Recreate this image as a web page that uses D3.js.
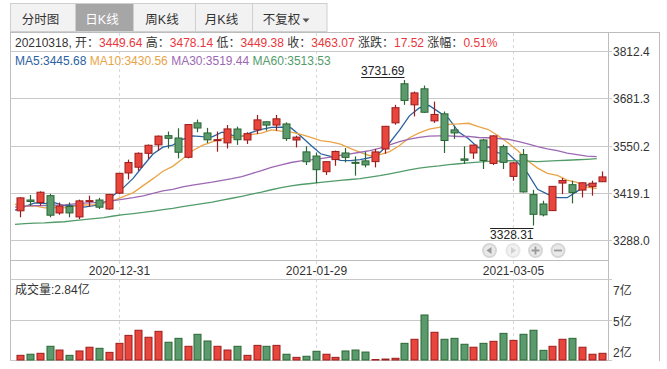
<!DOCTYPE html>
<html><head><meta charset="utf-8">
<script src="https://cdn.jsdelivr.net/npm/d3@7"></script>
<style>
html,body{margin:0;padding:0;background:#fff;}
svg{display:block;font-family:"Liberation Sans","Noto Sans CJK SC",Arial,sans-serif;}
</style></head><body>
<svg id="c" width="667" height="369"></svg>
<script>
const dates = ["2020-12-17","2020-12-18","2020-12-21","2020-12-22","2020-12-23","2020-12-24","2020-12-25","2020-12-28","2020-12-29","2020-12-30",
"2020-12-31","2021-01-04","2021-01-05","2021-01-06","2021-01-07","2021-01-08","2021-01-11","2021-01-12","2021-01-13","2021-01-14",
"2021-01-15","2021-01-18","2021-01-19","2021-01-20","2021-01-21","2021-01-22","2021-01-25","2021-01-26","2021-01-27","2021-01-28",
"2021-01-29","2021-02-01","2021-02-02","2021-02-03","2021-02-04","2021-02-05","2021-02-08","2021-02-09","2021-02-10","2021-02-18",
"2021-02-19","2021-02-22","2021-02-23","2021-02-24","2021-02-25","2021-02-26","2021-03-01","2021-03-02","2021-03-03","2021-03-04",
"2021-03-05","2021-03-08","2021-03-09","2021-03-10","2021-03-11","2021-03-12","2021-03-15","2021-03-16","2021-03-17","2021-03-18"];
const opens = [3369,3399,3392,3411,3363,3381,3352,3395,3399,3374,
3418,3474,3490,3528.5,3552,3577.5,3571,3517.5,3613,3585,
3565.5,3557.5,3596,3565.5,3593.5,3616,3607,3610,3565.5,3532.5,
3521,3477.5,3511,3529.5,3503.5,3507.5,3505.5,3540.5,3613,3721.5,
3663,3707.5,3618.5,3638,3593.5,3513,3529.5,3565.5,3500.5,3547,
3464.5,3525,3414,3388,3369.5,3446,3441.5,3426.5,3436,3449.64];
const highs = [3407,3413,3423,3416,3392,3392,3400,3411,3405,3415.5,
3474,3511,3531,3553,3578,3589,3598,3609,3622,3599,
3589,3607,3602.5,3587,3635,3617,3635,3614.5,3577.5,3548,
3531,3506,3536,3543.5,3520,3533,3540.5,3604.5,3663,3731.69,
3700,3716.5,3672,3644.5,3605,3548,3552,3568.5,3578.5,3552.5,
3504,3540.5,3427,3397,3437.5,3460,3452.5,3448,3452.5,3478.14];
const lows = [3351,3383,3383,3351,3358,3351,3346,3380,3374,3372,
3415,3456,3480,3513,3536,3542,3514.5,3514.5,3587,3557,
3533,3542,3552,3554.5,3582,3591.5,3591.5,3563,3545,3496,
3446,3468.5,3494,3503.5,3466.5,3489.5,3489.5,3527,3608,3663,
3631,3640.5,3613,3529.5,3568.5,3499,3513,3485,3496,3485,
3452.5,3419.5,3328.31,3353.5,3368.5,3415.5,3389.5,3406,3411,3449.38];
const closes = [3404.87,3394.90,3420.57,3356.78,3382.32,3363.11,3396.56,3397.29,3379.04,3414.45,
3473.07,3502.96,3528.68,3550.88,3576.20,3570.11,3531.50,3608.34,3598.65,3565.90,
3566.38,3596.22,3566.28,3583.09,3621.26,3606.75,3624.24,3569.43,3573.34,3505.18,
3483.07,3505.28,3533.68,3517.31,3501.86,3496.33,3532.44,3603.49,3655.09,3675.36,
3696.17,3642.44,3636.36,3564.08,3585.05,3509.08,3551.40,3508.59,3576.90,3503.49,
3501.99,3421.41,3359.29,3357.74,3436.83,3453.08,3419.95,3446.73,3445.55,3463.07];
// closes of the 59 sessions before the first shown day (for moving averages)
const priorCloses = [3270.44,3338.09,3316.94,3274.30,3279.71,3223.18,3219.42,3217.53,3224.36,3218.05,
3272.08,3358.47,3359.75,3340.28,3332.18,3336.36,3312.67,3328.10,3325.03,3312.50,3278.00,3251.12,3254.32,3269.24,3272.74,3224.53,
3225.12,3271.07,3277.44,3320.13,3312.16,3373.73,3360.15,3342.20,3338.68,3310.10,3346.97,3339.90,3347.30,3363.09,3377.73,3414.49,3402.82,3362.33,3369.73,3408.31,3391.76,
3451.94,3449.38,3442.14,3444.58,3416.60,3410.18,3371.96,3373.28,3347.19,3369.12,3367.23,3366.98];
const volumes = [2.71,2.78,2.84,3.29,3.05,2.71,2.99,3.23,3.16,2.90,
3.48,3.99,4.32,3.87,4.25,3.55,3.80,3.29,4.06,3.63,
3.29,3.05,3.29,2.71,3.35,3.29,3.35,2.78,2.58,2.65,
2.97,2.78,2.58,2.99,3.05,2.92,2.44,2.47,2.52,3.48,
3.74,5.30,4.19,3.74,3.80,3.42,3.23,3.48,3.61,4.12,
3.67,4.06,4.32,3.03,3.29,3.74,3.80,3.23,2.78,2.84];
const priceTicks = [3812.4, 3681.3, 3550.2, 3419.1, 3288.0];
const volTicks = [7.61, 5.01, 2.41];
const volTickLabels = ["7亿","5亿","2亿"];
const dateTicks = ["2020-12-31","2021-01-29","2021-03-05"];
const maPeriods = [5, 10, 30, 60];
const maLatest = [3445.68, 3430.56, 3519.44, 3513.53];
const maColors = ["#2b62a1","#e9a448","#9d68b3","#529c6a"];
const tabs = ["分时图","日K线","周K线","月K线","不复权"];

const svg = d3.select("#c");
const L = 10, PR = 608, R = 659, TOP = 32, PB = 260, DB = 279, VB = 360;
const UP_F = "#e8453c", UP_S = "#9c1c1c", DN_F = "#5b9a6c", DN_S = "#2a6633";
const GRID = "#c9c9c9", FRAME = "#bdbdbd", TXT = "#333", RED = "#e8383d";

const x = d3.scaleBand().domain(dates).range([15, 606.6]);
const cx = d => Math.round(x(d) + x.bandwidth() / 2) + 0.5;
const y = d3.scaleLinear().domain([3288.0, 3812.4]).range([240, 51]);
const yv = d3.scaleLinear().domain([volTicks[2], volTicks[0]]).range([VB, DB]);

// ---- tab bar ----
const tabEdges = [10, 75, 133, 195, 252, 327];
const tb = svg.append("g");
tb.append("rect").attr("x", 10.5).attr("y", 3.5).attr("width", 316.5).attr("height", 28)
  .attr("fill", "#f2f2f2").attr("stroke", "#cfcfcf");
tabs.forEach((t, i) => {
  const x0 = tabEdges[i], x1 = tabEdges[i + 1];
  if (i === 1) tb.append("rect").attr("x", x0 + 0.5).attr("y", 4).attr("width", x1 - x0).attr("height", 27).attr("fill", "#a6a6a6");
  if (i > 0) tb.append("line").attr("x1", x0 + 0.5).attr("x2", x0 + 0.5).attr("y1", 4).attr("y2", 31).attr("stroke", "#cfcfcf");
  const cxT = (x0 + x1) / 2 - (i === 4 ? 8 : 2);
  tb.append("text").attr("x", cxT).attr("y", 24).attr("text-anchor", "middle")
    .attr("font-size", 12.5).attr("fill", i === 1 ? "#fff" : TXT).text(t);
  if (i === 4) tb.append("path").attr("d", "M302.5,18.5 L309.5,18.5 L306,22.5 Z").attr("fill", "#555");
});

// ---- frame ----
const fr = svg.append("g").attr("fill", "none").attr("stroke", FRAME);
fr.append("line").attr("x1", L).attr("x2", R + 0.5).attr("y1", TOP + 0.5).attr("y2", TOP + 0.5);
fr.append("line").attr("x1", L + 0.5).attr("x2", L + 0.5).attr("y1", TOP).attr("y2", VB + 1);
fr.append("line").attr("x1", R + 0.5).attr("x2", R + 0.5).attr("y1", TOP).attr("y2", VB + 1);
fr.append("line").attr("x1", PR + 0.5).attr("x2", PR + 0.5).attr("y1", TOP).attr("y2", VB + 1);
fr.append("line").attr("x1", L).attr("x2", PR).attr("y1", PB + 0.5).attr("y2", PB + 0.5);

// dashed date lines
svg.append("g").selectAll("line").data(dateTicks).join("line")
  .attr("x1", d => cx(d)).attr("x2", d => cx(d)).attr("y1", TOP + 1).attr("y2", VB)
  .attr("stroke", "#d8d8d8").attr("stroke-dasharray", "3,3");

// price grid + axis
const pg = svg.append("g");
priceTicks.forEach(t => {
  const yy = Math.round(y(t)) + 0.5;
  pg.append("line").attr("x1", L).attr("x2", PR + 4).attr("y1", yy).attr("y2", yy).attr("stroke", GRID);
  pg.append("text").attr("x", 613).attr("y", y(t) + 5).attr("font-size", 12).attr("fill", TXT).text(t.toFixed(1));
});
// volume grid + axis
const vOff = [15.5, 6, -3];
volTicks.forEach((t, i) => {
  const yy = Math.round(yv(t)) + 0.5;
  pg.append("line").attr("x1", L).attr("x2", PR + 4).attr("y1", yy).attr("y2", yy).attr("stroke", GRID);
  pg.append("text").attr("x", 613).attr("y", yv(t) + vOff[i]).attr("font-size", 12).attr("fill", TXT).text(volTickLabels[i]);
});

// date labels
svg.append("g").selectAll("text").data(dateTicks).join("text")
  .attr("x", d => cx(d)).attr("y", 275).attr("text-anchor", "middle").attr("font-size", 12)
  .attr("fill", TXT).attr("stroke", "#fff").attr("stroke-width", 3).attr("paint-order", "stroke").text(d => d);

// ---- MA lines ----
const all = priorCloses.concat(closes);
const P = priorCloses.length;
maPeriods.forEach((n, k) => {
  const vals = closes.map((c, i) => d3.mean(all.slice(P + i - n + 1, P + i + 1)));
  svg.append("path").datum(vals)
    .attr("d", d3.line().x((v, i) => x(dates[i])).y(v => y(v)))
    .attr("fill", "none").attr("stroke", maColors[k]).attr("stroke-width", 1.3);
});

// ---- candles ----
const cg = svg.append("g");
dates.forEach((d, i) => {
  const up = closes[i] >= opens[i];
  const xc = cx(d);
  cg.append("line").attr("x1", xc).attr("x2", xc).attr("y1", y(highs[i])).attr("y2", y(lows[i]))
    .attr("stroke", up ? UP_S : DN_S).attr("stroke-width", 1.2);
  const top = y(Math.max(opens[i], closes[i])), bot = y(Math.min(opens[i], closes[i]));
  cg.append("rect").attr("x", xc - 3.5).attr("y", top).attr("width", 7).attr("height", Math.max(1, bot - top))
    .attr("fill", up ? UP_F : DN_F).attr("stroke", up ? UP_S : DN_S).attr("stroke-width", 1);
});

// ---- volume bars ----
dates.forEach((d, i) => {
  const up = closes[i] >= opens[i];
  const xc = cx(d);
  const top = yv(volumes[i]);
  cg.append("rect").attr("x", xc - 3.5).attr("y", top).attr("width", 7).attr("height", Math.max(0.5, VB - top))
    .attr("fill", up ? UP_F : DN_F).attr("stroke", up ? UP_S : DN_S).attr("stroke-width", 1);
});

// ---- high / low marks ----
const iHi = d3.maxIndex(highs), iLo = d3.minIndex(lows);
const hiT = svg.append("text").attr("x", cx(dates[iHi])).attr("y", y(highs[iHi]) - 5)
  .attr("text-anchor", "end").attr("font-size", 12).attr("fill", "#222").text(highs[iHi].toFixed(2));
const hw = hiT.node().getComputedTextLength();
svg.append("line").attr("x1", cx(dates[iHi]) - hw).attr("x2", cx(dates[iHi]))
  .attr("y1", Math.round(y(highs[iHi]) - 3) + 0.5).attr("y2", Math.round(y(highs[iHi]) - 3) + 0.5).attr("stroke", "#222");
const loT = svg.append("text").attr("x", cx(dates[iLo])).attr("y", y(lows[iLo]) + 14)
  .attr("text-anchor", "end").attr("font-size", 12).attr("fill", "#222").text(lows[iLo].toFixed(2));
const lw = loT.node().getComputedTextLength();
svg.append("line").attr("x1", cx(dates[iLo]) - lw).attr("x2", cx(dates[iLo]))
  .attr("y1", Math.round(y(lows[iLo]) + 3) + 0.5).attr("y2", Math.round(y(lows[iLo]) + 3) + 0.5).attr("stroke", "#222");

// ---- nav buttons ----
const nav = ["prev", "next", "plus", "minus"];
const navX = [489.5, 513, 535.5, 558];
nav.forEach((n, i) => {
  const g = svg.append("g").attr("transform", `translate(${navX[i]},250.5)`);
  const dis = n === "next";
  g.append("circle").attr("r", 7.5).attr("fill", dis ? "#e6e6e6" : "#d6d6d6");
  g.append("circle").attr("r", 5.5).attr("fill", dis ? "#f1f1f1" : "#e9e9e9");
  const col = dis ? "#d0d0d0" : "#9a9a9a";
  if (n === "prev") g.append("path").attr("d", "M-3,0 L2,-3.5 L2,3.5 Z").attr("fill", col);
  if (n === "next") g.append("path").attr("d", "M3,0 L-2,-3.5 L-2,3.5 Z").attr("fill", col);
  if (n === "plus") g.append("path").attr("d", "M-4,-0.9 H4 V0.9 H-4 Z M-0.9,-4 H0.9 V4 H-0.9 Z").attr("fill", col);
  if (n === "minus") g.append("path").attr("d", "M-4,-0.9 H4 V0.9 H-4 Z").attr("fill", col);
});

// ---- info line ----
const n = closes.length - 1;
const chg = closes[n] - closes[n - 1];
const pct = chg / closes[n - 1] * 100;
const info = svg.append("text").attr("x", 15).attr("y", 47).attr("font-size", 12).attr("fill", TXT);
const parts = [
  [dates[n].replace(/-/g, "") + ", 开：", TXT], [opens[n].toFixed(2), RED],
  [" 高：", TXT], [highs[n].toFixed(2), RED],
  [" 低：", TXT], [lows[n].toFixed(2), RED],
  [" 收：", TXT], [closes[n].toFixed(2), RED],
  [" 涨跌：", TXT], [chg.toFixed(2), RED],
  [" 涨幅：", TXT], [pct.toFixed(2) + "%", RED]];
parts.forEach(p => info.append("tspan").attr("fill", p[1]).attr("xml:space", "preserve").text(p[0]));

const ma = svg.append("text").attr("x", 15).attr("y", 65).attr("font-size", 12);
maPeriods.forEach((p, k) => ma.append("tspan").attr("fill", maColors[k]).text((k ? " " : "") + "MA" + p + ":" + maLatest[k].toFixed(2)));

// volume label
svg.append("text").attr("x", 15).attr("y", 293.5).attr("font-size", 12).attr("fill", TXT)
  .text("成交量:" + volumes[n].toFixed(2) + "亿");
</script>
</body></html>
